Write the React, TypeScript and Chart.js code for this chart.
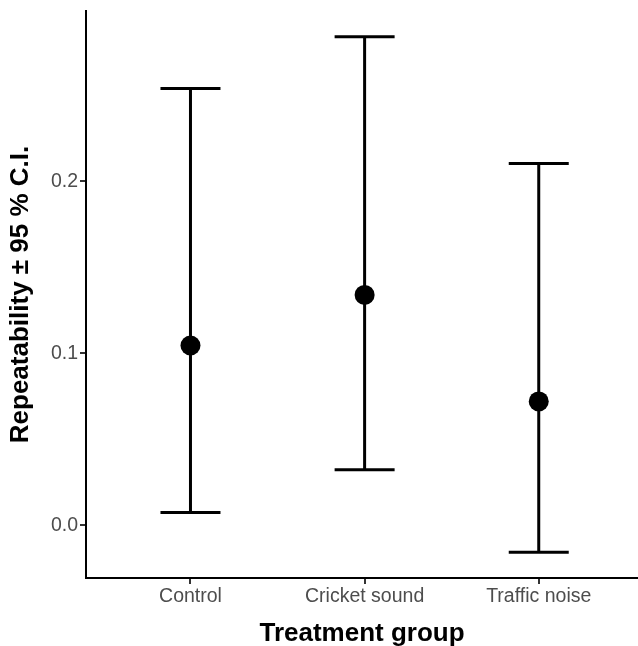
import React, { useEffect, useRef } from "react";
import { Chart, registerables } from "chart.js";

Chart.register(...registerables);

const categories = ["Control", "Cricket sound", "Traffic noise"];
const categoryPositions = [1, 2, 3];
const meanValues = [0.1045, 0.1339, 0.072];
const lowerCI = [0.0074, 0.0323, -0.0157];
const upperCI = [0.2539, 0.284, 0.2103];
const yTickValues = [0, 0.1, 0.2];
const yTickLabels = ["0.0", "0.1", "0.2"];

const FONT = "'Liberation Sans', Arial, Helvetica, sans-serif";

const errorBarPlugin = {
  id: "errorBars",
  beforeDatasetsDraw(chart: any) {
    const { ctx, scales } = chart;
    const xs = scales.x;
    const ys = scales.y;
    const capHalf = 30;
    ctx.save();
    ctx.strokeStyle = "#000000";
    ctx.lineWidth = 3;
    ctx.lineCap = "butt";
    for (let i = 0; i < categoryPositions.length; i++) {
      const px = xs.getPixelForValue(categoryPositions[i]);
      const pLow = ys.getPixelForValue(lowerCI[i]);
      const pHigh = ys.getPixelForValue(upperCI[i]);
      ctx.beginPath();
      ctx.moveTo(px, pLow);
      ctx.lineTo(px, pHigh);
      ctx.stroke();
      ctx.beginPath();
      ctx.moveTo(px - capHalf, pHigh);
      ctx.lineTo(px + capHalf, pHigh);
      ctx.moveTo(px - capHalf, pLow);
      ctx.lineTo(px + capHalf, pLow);
      ctx.stroke();
    }
    ctx.restore();
  },
};

export default function App() {
  const canvasRef = useRef<HTMLCanvasElement | null>(null);

  useEffect(() => {
    if (!canvasRef.current) return;
    const chart = new Chart(canvasRef.current, {
      type: "scatter",
      data: {
        datasets: [
          {
            data: categoryPositions.map((x, i) => ({ x, y: meanValues[i] })),
            backgroundColor: "#000000",
            borderColor: "#000000",
            pointRadius: 10,
            pointHoverRadius: 10,
            borderWidth: 0,
            clip: false,
          },
        ],
      },
      options: {
        responsive: false,
        animation: false,
        layout: { autoPadding: false, padding: { top: 11, right: 0, left: 0, bottom: 0 } },
        plugins: {
          legend: { display: false },
          tooltip: { enabled: false },
        },
        scales: {
          x: {
            type: "linear",
            min: 0.4,
            max: 3.57,
            afterFit: (scale: any) => {
              scale.height = 68;
              scale.paddingLeft = 0;
              scale.paddingRight = 0;
            },
            afterBuildTicks: (scale: any) => {
              scale.ticks = categoryPositions.map((v) => ({ value: v }));
            },
            ticks: {
              autoSkip: false,
              maxRotation: 0,
              padding: 1,
              color: "#4D4D4D",
              font: { family: FONT, size: 19.5 },
              callback: (value: any) => {
                const idx = categoryPositions.indexOf(Number(value));
                return idx >= 0 ? categories[idx] : "";
              },
            },
            grid: {
              display: true,
              drawOnChartArea: false,
              drawTicks: true,
              tickLength: 6,
              color: "#333333",
              lineWidth: 2,
            },
            border: { display: true, color: "#000000", width: 2 },
            title: {
              display: true,
              text: "Treatment group",
              color: "#000000",
              font: { family: FONT, size: 26, weight: "bold", lineHeight: 1 },
              padding: { top: 0, bottom: -1 },
            },
          },
          y: {
            type: "linear",
            min: -0.0307,
            max: 0.299,
            afterFit: (scale: any) => {
              scale.width = 86;
              scale.paddingTop = 0;
              scale.paddingBottom = 0;
            },
            afterBuildTicks: (scale: any) => {
              scale.ticks = yTickValues.map((v) => ({ value: v }));
            },
            ticks: {
              padding: 2,
              color: "#4D4D4D",
              font: { family: FONT, size: 19.5 },
              callback: (value: any) => {
                const idx = yTickValues.findIndex((t) => Math.abs(t - Number(value)) < 1e-9);
                return idx >= 0 ? yTickLabels[idx] : "";
              },
            },
            grid: {
              display: true,
              drawOnChartArea: false,
              drawTicks: true,
              tickLength: 6,
              color: "#333333",
              lineWidth: 2,
            },
            border: { display: true, color: "#000000", width: 2 },
            title: {
              display: true,
              text: "Repeatability ± 95 % C.I.",
              color: "#000000",
              font: { family: FONT, size: 26, weight: "bold", lineHeight: 1.2 },
              padding: { top: 5, bottom: 0 },
            },
          },
        },
      },
      plugins: [errorBarPlugin],
    });
    return () => chart.destroy();
  }, []);

  return (
    <div style={{ position: "absolute", left: 0, top: 0, width: 638, height: 646, background: "#ffffff" }}>
      <canvas ref={canvasRef} width={638} height={646} style={{ display: "block" }} />
    </div>
  );
}
